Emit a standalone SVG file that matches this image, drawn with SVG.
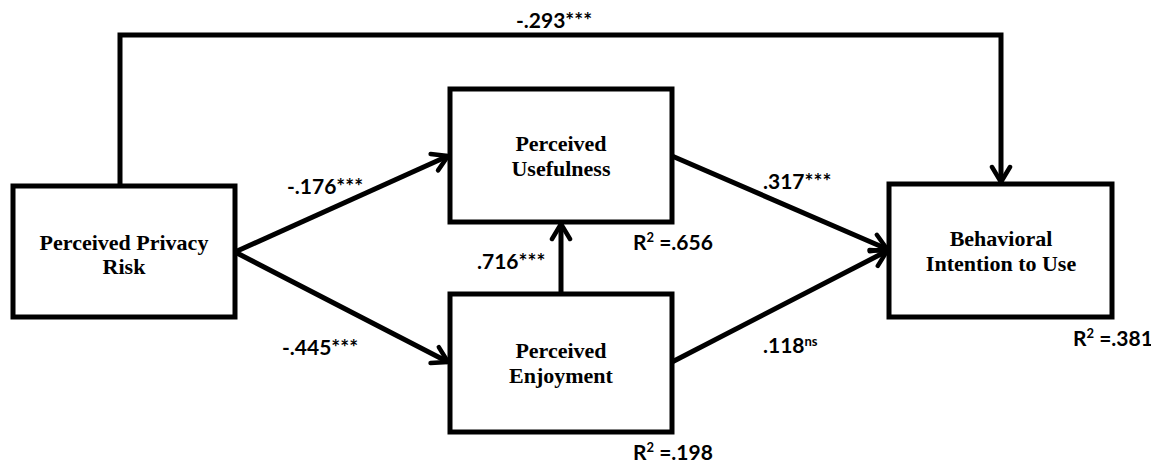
<svg xmlns="http://www.w3.org/2000/svg" width="1151" height="465" viewBox="0 0 1151 465">
<style>
.box{fill:#fff;stroke:#000;stroke-width:5}
.nt{font-family:"Liberation Serif",serif;font-weight:bold;font-size:22px;text-anchor:middle;fill:#000}
.lb{font-family:Lato,"Liberation Sans",sans-serif;font-weight:bold;font-size:21px;fill:#000}
.ln{fill:none;stroke:#000;stroke-width:5}
</style>
<defs>
<marker id="ah" viewBox="0 0 24 24" refX="21" refY="12" markerWidth="24" markerHeight="24" markerUnits="userSpaceOnUse" orient="auto">
<path d="M6,3 L21,12 L6,21" fill="none" stroke="#000" stroke-width="4.5" stroke-linecap="round" stroke-linejoin="round"/>
</marker>
</defs>
<g id="connectors">
<polyline class="ln" points="120,186 120,35 1001,35 1001,182" marker-end="url(#ah)"/>
<line class="ln" x1="235" y1="252" x2="448" y2="156" marker-end="url(#ah)"/>
<line class="ln" x1="235" y1="252" x2="448" y2="362" marker-end="url(#ah)"/>
<line class="ln" x1="561" y1="294" x2="561" y2="224" marker-end="url(#ah)"/>
<line class="ln" x1="672" y1="156" x2="887" y2="249" marker-end="url(#ah)"/>
<line class="ln" x1="672" y1="362" x2="887" y2="251" marker-end="url(#ah)"/>
</g>
<g id="labels">
<text class="lb" x="516" y="28">-.293***</text>
<text class="lb" x="287" y="194">-.176***</text>
<text class="lb" x="282" y="355">-.445***</text>
<text class="lb" x="477" y="269">.716***</text>
<text class="lb" x="763" y="189">.317***</text>
<text class="lb" x="763" y="353">.118<tspan font-size="13" dy="-7">ns</tspan></text>
<text class="lb" x="633" y="250">R<tspan font-size="13" dy="-8">2</tspan><tspan dy="8"> =.656</tspan></text>
<text class="lb" x="1073" y="346">R<tspan font-size="13" dy="-8">2</tspan><tspan dy="8"> =.381</tspan></text>
<text class="lb" x="633" y="460">R<tspan font-size="13" dy="-8">2</tspan><tspan dy="8"> =.198</tspan></text>
</g>
<g id="ppr">
<rect class="box" x="13" y="186" width="222" height="131"/>
<text class="nt" x="124" y="250">Perceived Privacy</text>
<text class="nt" x="124" y="274">Risk</text>
</g>
<g id="pu">
<rect class="box" x="450" y="89" width="222" height="133"/>
<text class="nt" x="561" y="151">Perceived</text>
<text class="nt" x="561" y="176">Usefulness</text>
</g>
<g id="pe">
<rect class="box" x="450" y="294" width="222" height="138"/>
<text class="nt" x="561" y="358">Perceived</text>
<text class="nt" x="561" y="383">Enjoyment</text>
</g>
<g id="bi">
<rect class="box" x="889" y="184" width="223" height="133"/>
<text class="nt" x="1001" y="246">Behavioral</text>
<text class="nt" x="1001" y="271">Intention to Use</text>
</g>
</svg>
